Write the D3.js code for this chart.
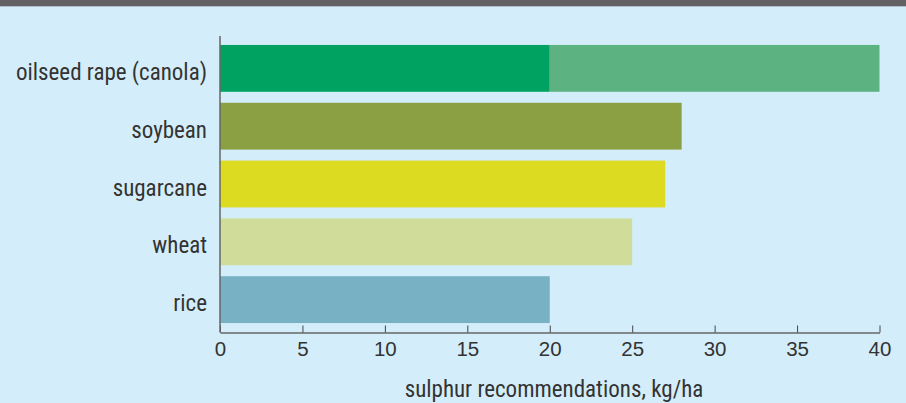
<!DOCTYPE html>
<html><head><meta charset="utf-8">
<script src="https://cdn.jsdelivr.net/npm/d3@7"></script>
<style>
html,body{margin:0;padding:0;background:#d3eefa;}
svg{display:block;}
text{font-family:"Roboto Condensed","Liberation Sans Narrow","Liberation Sans",sans-serif;fill:#333;}
</style></head>
<body>
<svg id="c" width="906" height="403"></svg>
<script>
const categories = ["oilseed rape (canola)", "soybean", "sugarcane", "wheat", "rice"];
const baseValues = [20, 28, 27, 25, 20];
const extraValues = [20, 0, 0, 0, 0];
const baseColors = ["#00a262", "#8ba043", "#dcdb22", "#d0dc9a", "#78b1c4"];
const extraColor = "#5db282";
const xTicks = [0, 5, 10, 15, 20, 25, 30, 35, 40];
const xTitle = "sulphur recommendations, kg/ha";

const svg = d3.select("#c");
svg.append("rect").attr("x",0).attr("y",0).attr("width",906).attr("height",403).attr("fill","#d3eefa");
svg.append("rect").attr("x",0).attr("y",0).attr("width",906).attr("height",6).attr("fill","#626264");
svg.append("rect").attr("x",0).attr("y",6).attr("width",906).attr("height",1).attr("fill","#aebfc9");

const x = d3.scaleLinear().domain([0,40]).range([220,879.5]);
const y = d3.scaleBand().domain(categories).range([36,332]).paddingInner(0.19).paddingOuter(0.155);

const data = categories.map((c,i)=>({c, base:baseValues[i], extra:extraValues[i], color:baseColors[i]}));

svg.append("g").selectAll("rect").data(data).join("rect")
  .attr("x", x(0)).attr("y", d=>y(d.c))
  .attr("width", d=>x(d.base)-x(0)).attr("height", y.bandwidth())
  .attr("fill", d=>d.color);
svg.append("g").selectAll("rect").data(data.filter(d=>d.extra>0)).join("rect")
  .attr("x", d=>x(d.base)).attr("y", d=>y(d.c))
  .attr("width", d=>x(d.base+d.extra)-x(d.base)).attr("height", y.bandwidth())
  .attr("fill", extraColor);

// x axis
const xa = svg.append("g").attr("transform","translate(0,332.5)")
  .call(d3.axisBottom(x).tickValues(xTicks).tickSizeInner(-7).tickSizeOuter(0).tickPadding(9));
xa.attr("font-family",null);
xa.select(".domain").attr("stroke","#666").attr("stroke-width",1.5);
xa.selectAll(".tick line").attr("stroke","#444");
xa.selectAll(".tick text").attr("font-size",20.5).attr("fill","#333")
  .style("font-family",'"Liberation Sans",sans-serif');

// y axis
const ya = svg.append("g").attr("transform","translate(220,0)")
  .call(d3.axisLeft(y).tickSize(0).tickPadding(13));
ya.attr("font-family",null);
ya.select(".domain").attr("d","M0,36V332.5").attr("stroke","#666").attr("stroke-width",1.5);
ya.selectAll(".tick text").attr("font-size",23).attr("dy","0.5em").attr("fill","#333");

svg.append("text").attr("x",554).attr("y",397).attr("text-anchor","middle")
  .attr("font-size",23).text(xTitle);
</script>
</body></html>
